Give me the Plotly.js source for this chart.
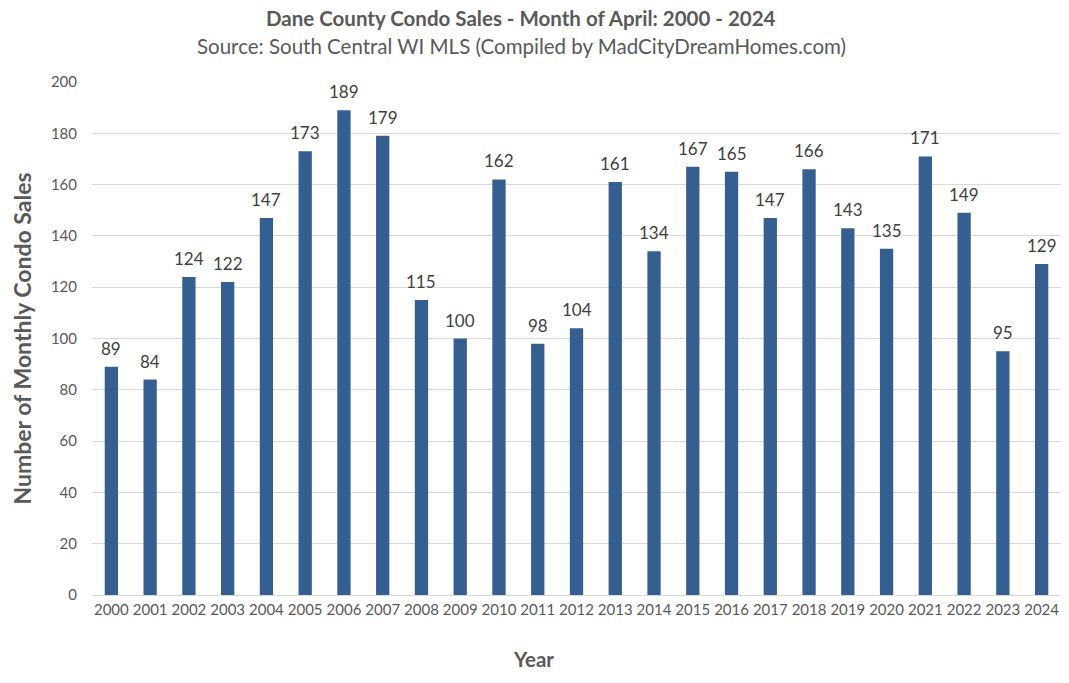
<!DOCTYPE html>
<html>
<head>
<meta charset="utf-8">
<script src="https://cdn.plot.ly/plotly-3.0.1.min.js"></script>
<style>
  html, body { margin: 0; padding: 0; background: #fff; }
  #chart { width: 1069px; height: 683px; }
</style>
</head>
<body>
<div id="chart"></div>
<script>
// === Datos ===
const years = ["2000", "2001", "2002", "2003", "2004", "2005", "2006", "2007", "2008", "2009",
  "2010", "2011", "2012", "2013", "2014", "2015", "2016", "2017", "2018", "2019",
  "2020", "2021", "2022", "2023", "2024"];
const sales = [89, 84, 124, 122, 147, 173, 189, 179, 115, 100,
  162, 98, 104, 161, 134, 167, 165, 147, 166, 143,
  135, 171, 149, 95, 129];
const yTicks = [0, 20, 40, 60, 80, 100, 120, 140, 160, 180, 200];

const fontFam = "Lato, 'Open Sans', sans-serif";
const grey = "#595959";

// etiquetas de valor encima de cada barra (x = índice de categoría)
const labels = years.map((yr, i) => ({
  x: i,
  y: sales[i],
  text: String(sales[i]),
  showarrow: false,
  yanchor: "bottom",
  yshift: 6,
  font: { family: fontFam, size: 17, color: "#404040" }
}));

// títulos como anotaciones para fijar su posición
const titles = [
  { text: "<b>Dane County Condo Sales - Month of April: 2000 - 2024</b>", yshift: 64, size: 20.5 },
  { text: "Source: South Central WI MLS (Compiled by MadCityDreamHomes.com)", yshift: 36, size: 20.5 }
].map(t => ({
  text: t.text,
  xref: "paper", yref: "paper",
  x: (521 - 92) / (1061 - 92), y: 1,
  xanchor: "center", yanchor: "middle",
  yshift: t.yshift,
  showarrow: false,
  font: { family: fontFam, size: t.size, color: grey }
}));

const trace = {
  type: "bar",
  x: years,
  y: sales,
  marker: { color: "#365F91" },
  hoverinfo: "x+y"
};

const layout = {
  width: 1069,
  height: 683,
  margin: { l: 92, r: 8, t: 82, b: 88 },
  paper_bgcolor: "#fff",
  plot_bgcolor: "#fff",
  bargap: 0.657,
  showlegend: false,
  font: { family: fontFam, color: grey },
  xaxis: {
    type: "category",
    range: [-0.5, years.length - 0.5],
    tickfont: { size: 15, color: grey },
    showgrid: false,
    showline: false,
    ticks: "",
    ticklabelstandoff: 4
  },
  yaxis: {
    range: [0, 200],
    tickvals: yTicks,
    tickfont: { size: 15, color: grey },
    gridcolor: "#d9d9d9",
    gridwidth: 1,
    zeroline: true,
    zerolinecolor: "#d9d9d9",
    zerolinewidth: 1,
    ticks: "",
    ticklabelstandoff: 14,
    title: {
      text: "<b>Number of Monthly Condo Sales</b>",
      font: { size: 23, color: grey },
      standoff: 12
    }
  },
  annotations: labels.concat(titles, [{
    text: "<b>Year</b>",
    xref: "paper",
    yref: "paper",
    x: (533 - 92) / (1061 - 92),
    y: 0,
    xanchor: "center",
    yanchor: "middle",
    yshift: -64,
    showarrow: false,
    font: { family: fontFam, size: 20.5, color: grey }
  }])
};

Plotly.newPlot("chart", [trace], layout, { displayModeBar: false, staticPlot: true });
</script>
</body>
</html>
